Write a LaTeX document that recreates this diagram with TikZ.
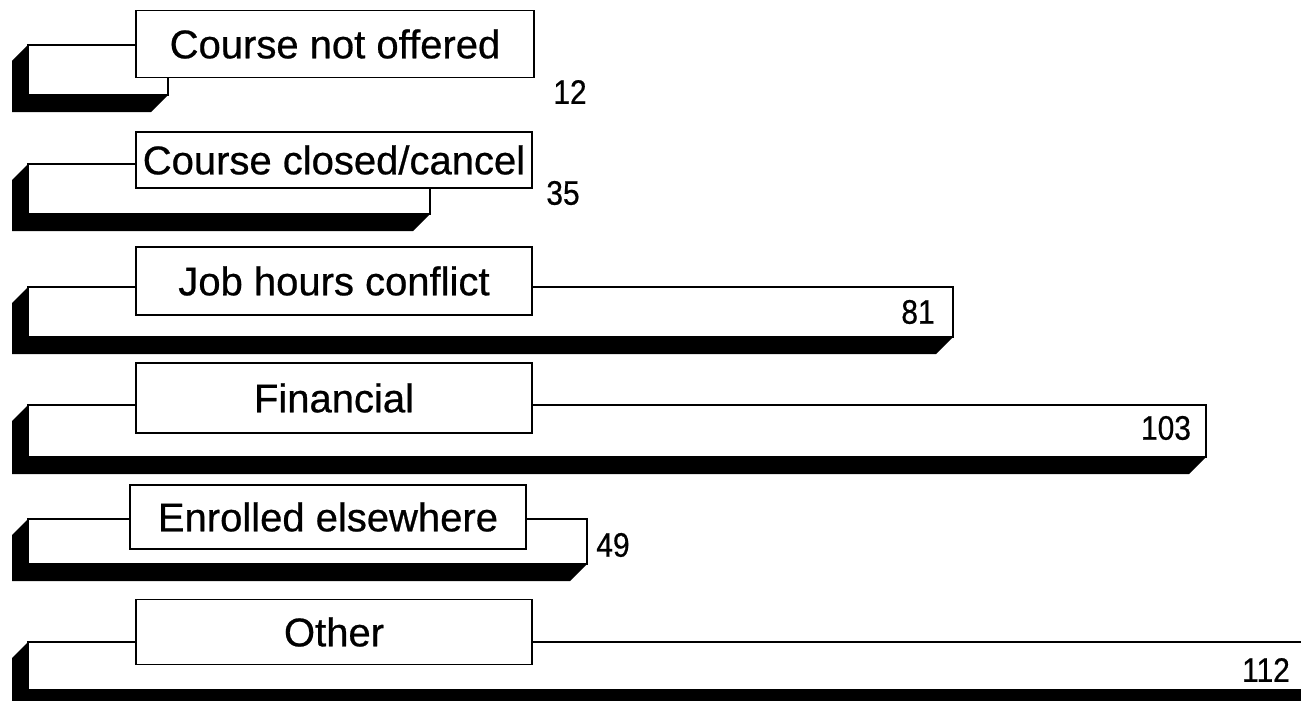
\documentclass[tikz,border=0pt]{standalone}
\usepackage{fontspec}
\setmainfont{Liberation Sans}
\newfontfamily\heavyfont{Liberation Sans}[FakeBold=0.6]
\newcommand\narrowtxt[1]{\scalebox{0.88}[1]{#1}}
\tikzset{
  face/.style={draw=black, fill=white, line width=1.4pt},
  lbl/.style={draw=black, fill=white, line width=1.4pt, inner sep=0pt,
    font=\heavyfont\fontsize{40}{42}\selectfont},
  val/.style={inner sep=0pt, font=\heavyfont\fontsize{34}{36}\selectfont},
  shade/.style={fill=black},
}
% #1 L, #2 T, #3 R, #4 B (pixel units, y downwards)
\newcommand\barshape[4]{%
  \fill[shade] (#1,#2) -- ({#1-16},{#2+16}) -- ({#1-16},{#4+17}) -- ({#3-17},{#4+17}) -- (#3,#4) -- (#1,#4) -- cycle;
  \draw[face] (#1,#2) rectangle (#3,#4);
}
\begin{document}
\begin{tikzpicture}[x=1pt,y=-1pt]
\useasboundingbox (0,0) rectangle (1301,701);
\clip (0,0) rectangle (1301,701);
\fill[white] (0,0) rectangle (1301,701);

% bar 1
\barshape{28}{45}{168}{95}
\node[lbl, minimum width=398pt, minimum height=67pt] (l1) at (335,44) {Course not offered};
\node[val] (v1) at (570,92) {\narrowtxt{12}};

% bar 2
\barshape{28}{164}{430}{214}
\node[lbl, minimum width=396pt, minimum height=56pt] (l2) at (334,160) {Course closed/cancel};
\node[val] (v2) at (563,193) {\narrowtxt{35}};

% bar 3
\barshape{28}{287}{953}{337}
\node[lbl, minimum width=396pt, minimum height=68pt] (l3) at (334,281) {Job hours conflict};
\node[val] (v3) at (918,312) {\narrowtxt{81}};

% bar 4
\barshape{28}{405}{1206}{457}
\node[lbl, minimum width=396pt, minimum height=70pt] (l4) at (334,398) {Financial};
\node[val] (v4) at (1166,428) {\narrowtxt{103}};

% bar 5
\barshape{28}{519}{587}{564}
\node[lbl, minimum width=396pt, minimum height=64pt] (l5) at (328,517) {Enrolled elsewhere};
\node[val] (v5) at (613,545) {\narrowtxt{49}};

% bar 6
\barshape{28}{642}{1330}{690}
\node[lbl, minimum width=396pt, minimum height=65pt] (l6) at (334,632) {Other};
\node[val] (v6) at (1266,670) {\narrowtxt{112}};
\end{tikzpicture}
\end{document}
